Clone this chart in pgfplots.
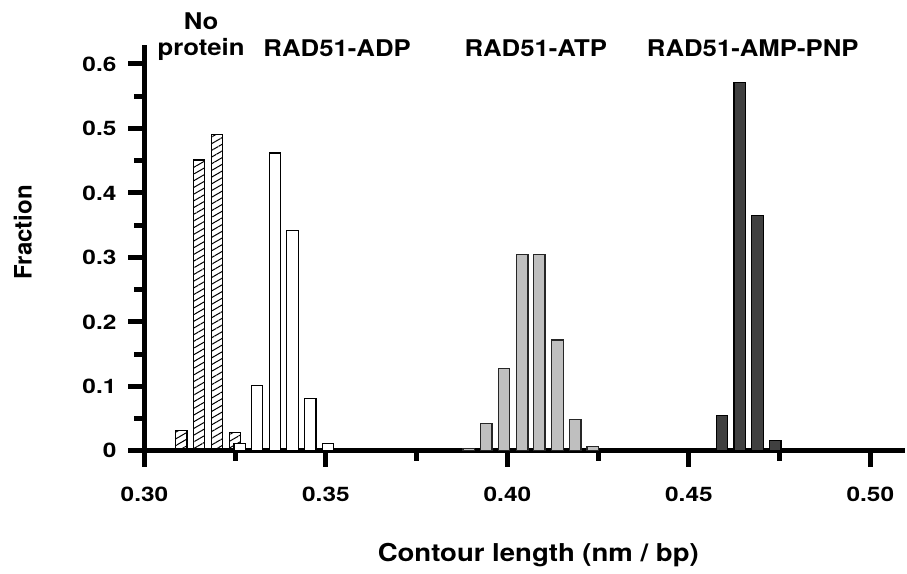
\documentclass[border=0pt]{standalone}
\usepackage{fontspec}
\setmainfont{TeX Gyre Heros}[FakeStretch=1.12]
\newfontfamily\labfont{TeX Gyre Heros}
\newfontfamily\tickfont{TeX Gyre Heros}[FakeStretch=1.22]
\usepackage{pgfplots}
\pgfplotsset{compat=1.18}
\usetikzlibrary{patterns.meta}

\begin{document}
\begin{tikzpicture}
\begin{axis}[
    scale only axis,
    width=380.2pt, height=203.2pt,
    xmin=0.30, xmax=0.5094,
    ymin=0, ymax=0.63,
    axis x line=bottom, axis y line=left,
    axis line style={-, line width=2.5pt, black},
    tick align=outside,
    major tick length=8pt, minor tick length=5pt,
    every tick/.style={black, line width=2.5pt},
    xtick={0.30,0.35,0.40,0.45,0.50},
    ytick={0,0.1,0.2,0.3,0.4,0.5,0.6},
    minor tick num=1,
    ticklabel style={font=\tickfont\fontsize{10}{12}\selectfont\bfseries},
    /pgf/number format/assume math mode=true,
    xticklabel style={yshift=-6.5pt, /pgf/number format/.cd, fixed, fixed zerofill, precision=2},
    yticklabel style={xshift=-2.5pt, /pgf/number format/.cd, fixed, precision=1},
    clip=false,
]
% No protein
\addplot[ybar, bar width=0.0031, draw=black, line width=0.6pt,
    pattern={Lines[angle=30, distance=2.9pt, line width=0.5pt]}]
  coordinates {(0.3102,0.032) (0.3151,0.451) (0.3200,0.490) (0.3249,0.028)};
% RAD51-ADP
\addplot[ybar, bar width=0.0031, draw=black, line width=0.6pt, fill=white]
  coordinates {(0.3262,0.012) (0.3310,0.101) (0.3359,0.462) (0.3408,0.342)
               (0.3457,0.081) (0.3505,0.011)};
% RAD51-ATP
\addplot[ybar, bar width=0.0031, draw=black!85, line width=0.6pt, fill=black!25]
  coordinates {(0.3893,0.004) (0.3942,0.042) (0.3990,0.128) (0.4041,0.305)
               (0.4088,0.304) (0.4138,0.172) (0.4187,0.048) (0.4235,0.007)};
% RAD51-AMP-PNP
\addplot[ybar, bar width=0.0031, draw=black, line width=0.6pt, fill=black!75]
  coordinates {(0.4591,0.055) (0.4640,0.571) (0.4689,0.365) (0.4738,0.016)};

\begin{scope}[font=\fontsize{11.5}{13}\selectfont\bfseries]
\node[anchor=base] at (axis cs:0.3156,0.654) {No};
\node[anchor=base] at (axis cs:0.3156,0.613) {protein};
\node[anchor=base] at (axis cs:0.3531,0.6113) {RAD51-ADP};
\node[anchor=base] at (axis cs:0.4078,0.6113) {RAD51-ATP};
\node[anchor=base] at (axis cs:0.4676,0.6113) {RAD51-AMP-PNP};
\end{scope}
\node[anchor=base, font=\fontsize{12.3}{14}\selectfont\bfseries]
  at (axis cs:0.4085,-0.1716) {Contour length (nm / bp)};
\node[anchor=base, rotate=90, font=\labfont\fontsize{12}{14}\selectfont\bfseries]
  at (axis cs:0.2689,0.3388) {Fraction};

\coordinate (bl) at (axis cs:0.26021,-0.19070);
\coordinate (tr) at (axis cs:0.50997,0.69922);
\end{axis}
\useasboundingbox (bl) rectangle (tr);
\end{tikzpicture}
\end{document}
